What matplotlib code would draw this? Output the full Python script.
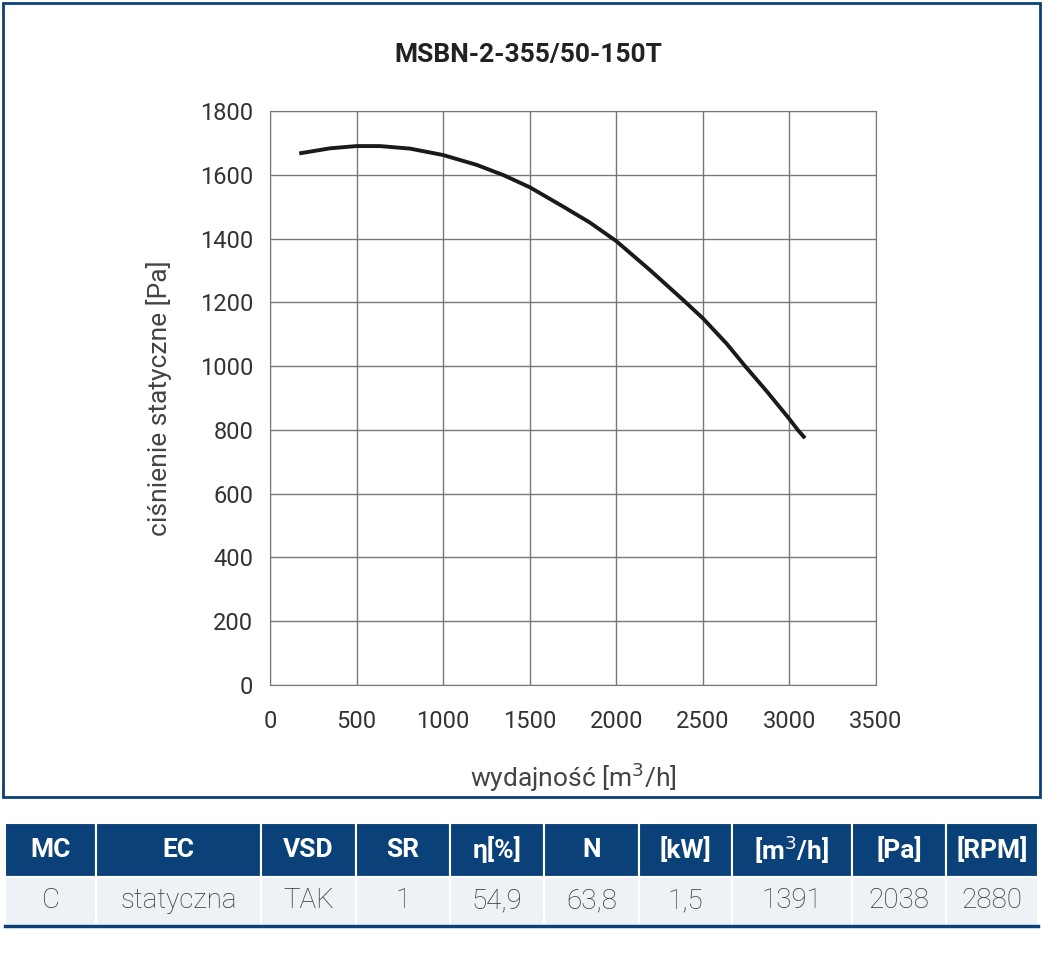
import numpy as np
import matplotlib.pyplot as plt
from matplotlib.patches import Rectangle

W, H = 1043, 957

# curve
flow = [169, 347, 500, 635, 809, 999, 1194, 1348, 1500, 1694, 1848, 2000, 2195, 2387, 2500,
        2638, 2744, 2869, 3000, 3048, 3090]
pressure = [1667, 1683, 1690, 1690, 1682, 1662, 1631, 1599, 1561, 1500, 1450, 1392, 1301, 1207, 1150,
            1070, 1000, 921, 834, 800, 774]

headers = ['MC', 'EC', 'VSD', 'SR', 'η[%]', 'N', '[kW]', '[m$^3$/h]', '[Pa]', '[RPM]']
values = ['C', 'statyczna', 'TAK', '1', '54,9', '63,8', '1,5', '1391', '2038', '2880']
col_edges = [5, 96, 261, 356, 450, 544, 639, 732, 852, 946, 1038]

blue = '#0b4179'
plt.rcParams['font.family'] = ['Roboto', 'DejaVu Sans']

fig = plt.figure(figsize=(W / 100, H / 100), dpi=100)

def fx(px):
    return px / W

def fy(py):
    return 1 - py / H

# outer frame around chart
fig.patches.append(Rectangle((fx(3), fy(797)), fx(1037), 794 / H, transform=fig.transFigure,
                             fill=False, edgecolor=blue, lw=2))

ax = fig.add_axes([fx(270), fy(685), 606 / W, 574 / H])
ax.plot(flow, pressure, color='#1a1a1a', lw=2.8, solid_capstyle='butt', solid_joinstyle='round')
ax.set_xlim(0, 3500)
ax.set_ylim(0, 1800)
ax.set_xticks(range(0, 3501, 500))
ax.set_yticks(range(0, 1801, 200))
ax.grid(True, color='#777777', lw=1)
ax.tick_params(length=0, labelsize=17, colors='#333333', pad=12)
ax.tick_params(axis='x', pad=18)
for s in ax.spines.values():
    s.set_color('#777777')
ax.set_axisbelow(True)
ax.set_xlabel('wydajność [m$^3$/h]', fontsize=19, color='#444444', labelpad=20)
ax.set_ylabel('ciśnienie statyczne [Pa]', fontsize=19, color='#444444', labelpad=20)

fig.text(fx(528), fy(55), 'MSBN-2-355/50-150T', ha='center', va='center',
         fontsize=19, fontweight='bold', color='#222222')

# table
for i in range(len(headers)):
    x0, x1 = col_edges[i], col_edges[i + 1]
    fig.patches.append(Rectangle((fx(x0), fy(877)), (x1 - x0) / W, 54 / H, transform=fig.transFigure,
                                 facecolor=blue, edgecolor='white', lw=1.5))
    fig.patches.append(Rectangle((fx(x0), fy(925)), (x1 - x0) / W, 48 / H, transform=fig.transFigure,
                                 facecolor='#eef1f6', edgecolor='white', lw=1.5))
    xc = fx((x0 + x1) / 2)
    fig.text(xc, fy(850), headers[i], ha='center', va='center', fontsize=19,
             fontweight='bold', color='white')
    fig.text(xc, fy(901), values[i], ha='center', va='center', fontsize=20,
             fontweight='light', color='#333333')

fig.add_artist(plt.Line2D([fx(5), fx(1038)], [fy(926), fy(926)], color=blue, lw=2.5))

fig.savefig('out.png', dpi=100)
